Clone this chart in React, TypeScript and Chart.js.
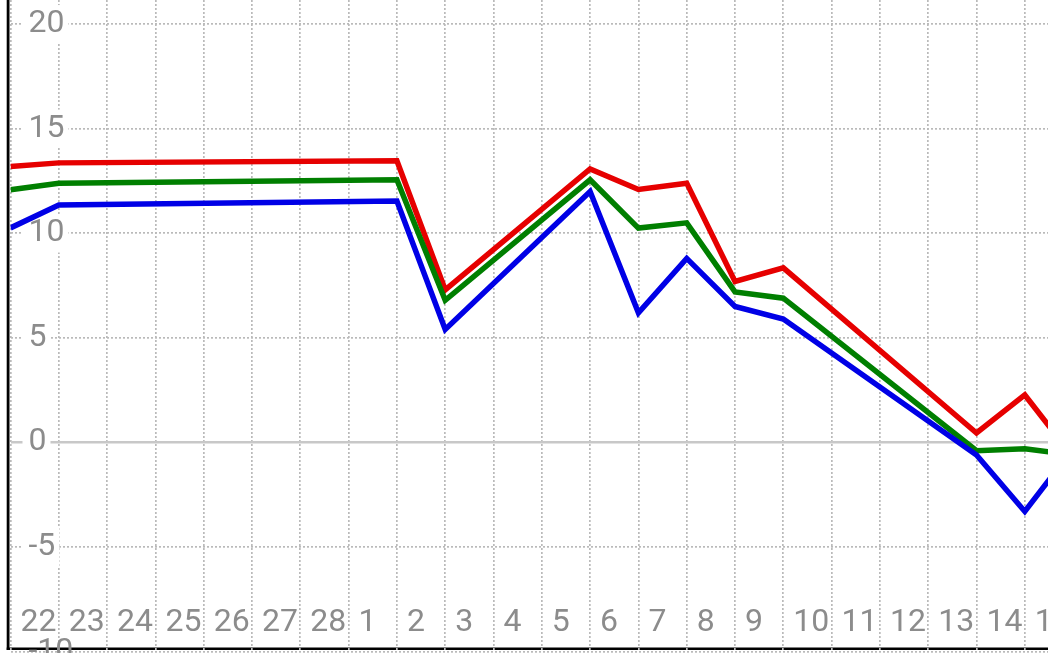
import React, { useEffect, useRef } from 'react';
import { Chart, registerables } from 'chart.js';

Chart.register(...registerables);

// Tick labels of the x axis (one per day, starting at the left edge)
const dayLabels = ['22', '23', '24', '25', '26', '27', '28', '1', '2', '3', '4', '5', '6', '7', '8', '9', '10', '11', '12', '13', '14', '15', '16'];
// Day positions (index into dayLabels) where samples exist
const sampleIndex = [0, 1, 8, 9, 12, 13, 14, 15, 16, 20, 21, 22];
// Series values
const redValues = [13.2, 13.37, 13.47, 7.3, 13.08, 12.1, 12.4, 7.7, 8.35, 0.45, 2.27, -0.7];
const greenValues = [12.08, 12.4, 12.56, 6.8, 12.56, 10.25, 10.5, 7.2, 6.9, -0.4, -0.3, -0.6];
const blueValues = [10.26, 11.36, 11.55, 5.4, 12.0, 6.2, 8.8, 6.5, 5.9, -0.6, -3.3, -0.3];
// Axis ranges
const yMin = -10;
const yMax = 21.16;
const yStep = 5;
const xMin = 0;
const xMax = 21.48;

const W = 1048;
const H = 653;

const framePlugin = {
  id: 'frame',
  beforeDraw(chart: any) {
    const { ctx, chartArea, width } = chart;
    ctx.save();
    ctx.fillStyle = '#000';
    ctx.fillRect(chartArea.left - 3.8, 0, 2.8, chartArea.bottom - 1.5);
    ctx.fillRect(chartArea.left - 3.8, chartArea.bottom - 4, width, 2.5);
    ctx.restore();
  },
};

const isZero = (c: any) => !!(c && c.tick && c.tick.value === 0);

export default function App() {
  const ref = useRef<HTMLCanvasElement | null>(null);

  useEffect(() => {
    if (!ref.current) return;
    const mk = (vals: number[]) => sampleIndex.map((x, i) => ({ x, y: vals[i] }));
    const font = { family: 'Roboto', size: 32 };
    const chart = new Chart(ref.current, {
      type: 'line',
      data: {
        datasets: [
          { label: 'blue', data: mk(blueValues), borderColor: '#0000e6', borderWidth: 5.5, pointRadius: 0, tension: 0, fill: false, borderJoinStyle: 'miter' },
          { label: 'green', data: mk(greenValues), borderColor: '#007f00', borderWidth: 5.5, pointRadius: 0, tension: 0, fill: false, borderJoinStyle: 'miter' },
          { label: 'red', data: mk(redValues), borderColor: '#e60000', borderWidth: 5.5, pointRadius: 0, tension: 0, fill: false, borderJoinStyle: 'miter' },
        ],
      },
      options: {
        animation: false,
        responsive: false,
        layout: { padding: { left: 0, right: 0, top: 0, bottom: 1.5 } },
        plugins: { legend: { display: false }, tooltip: { enabled: false } },
        events: [],
        scales: {
          x: {
            type: 'linear',
            position: 'bottom',
            min: xMin,
            max: xMax,
            afterFit: (s: any) => {
              s.height = 0;
              s.paddingLeft = 0;
              s.paddingRight = 0;
            },
            grid: { color: '#bababa', lineWidth: 1.7, drawTicks: false, tickLength: 0 },
            border: { display: false, dash: [2, 2] },
            ticks: {
              stepSize: 1,
              includeBounds: false,
              maxTicksLimit: 100,
              autoSkip: false,
              maxRotation: 0,
              minRotation: 0,
              mirror: true,
              align: 'start',
              labelOffset: 10,
              padding: 9,
              font,
              color: '#8c8c8c',
              callback: (v: any) => dayLabels[v] ?? '',
            },
          },
          y: {
            type: 'linear',
            position: 'left',
            min: yMin,
            max: yMax,
            afterFit: (s: any) => {
              s.width = 10.5;
              s.paddingTop = 0;
              s.paddingBottom = 0;
            },
            grid: {
              color: (c: any) => (isZero(c) ? '#c8c8c8' : '#bababa'),
              lineWidth: (c: any) => (isZero(c) ? 2.5 : 1.7),
              drawTicks: false,
              tickLength: 0,
            },
            border: { display: false, dash: (c: any) => (isZero(c) ? [] : [2, 2]) },
            ticks: {
              stepSize: yStep,
              includeBounds: false,
              maxTicksLimit: 100,
              mirror: true,
              padding: 18,
              font,
              color: '#8c8c8c',
              showLabelBackdrop: true,
              backdropColor: (c: any) => (c && c.tick && c.tick.value === yMin ? 'rgba(0,0,0,0)' : '#ffffff'),
              backdropPadding: { left: 6, right: 4, top: 0, bottom: 0 },
              callback: (v: any) => String(v),
            },
          },
        },
      } as any,
      plugins: [framePlugin],
    });
    return () => chart.destroy();
  }, []);

  return (
    <div style={{ position: 'fixed', left: 0, top: 0, width: W, height: H, overflow: 'hidden', background: '#fff' }}>
      <canvas ref={ref} width={W} height={H} style={{ display: 'block', width: W, height: H }} />
    </div>
  );
}
